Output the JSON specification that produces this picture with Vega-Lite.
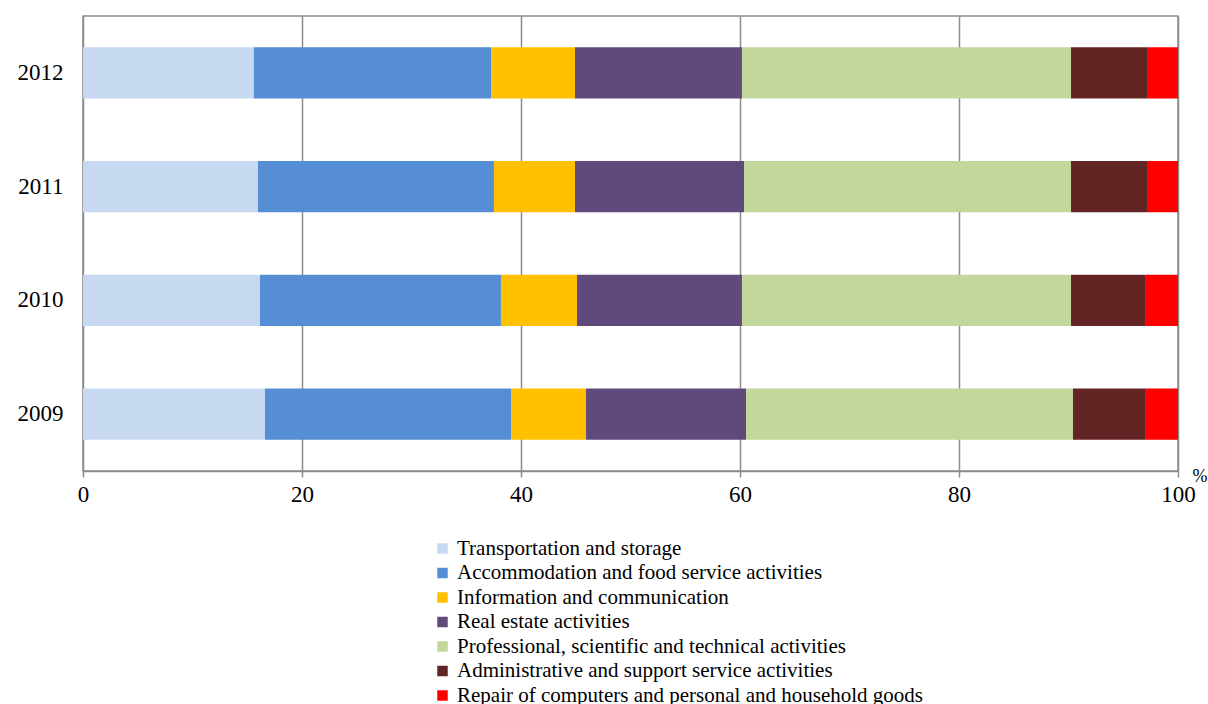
{
  "$schema": "https://vega.github.io/schema/vega-lite/v6.json",
  "autosize": "none",
  "width": 1095,
  "height": 455,
  "padding": {"left": 83, "top": 16, "right": 30, "bottom": 233},
  "background": "white",
  "config": {
    "font": "Liberation Serif",
    "view": {"stroke": "#8c8c8c", "strokeWidth": 1.5}
  },
  "data": {
    "values": [
      {"year": "2012", "sector": "Transportation and storage", "value": 15.6},
      {"year": "2012", "sector": "Accommodation and food service activities", "value": 21.66},
      {"year": "2012", "sector": "Information and communication", "value": 7.67},
      {"year": "2012", "sector": "Real estate activities", "value": 15.25},
      {"year": "2012", "sector": "Professional, scientific and technical activities", "value": 30.05},
      {"year": "2012", "sector": "Administrative and support service activities", "value": 6.94},
      {"year": "2012", "sector": "Repair of computers and personal and household goods", "value": 2.83},
      {"year": "2011", "sector": "Transportation and storage", "value": 15.98},
      {"year": "2011", "sector": "Accommodation and food service activities", "value": 21.55},
      {"year": "2011", "sector": "Information and communication", "value": 7.4},
      {"year": "2011", "sector": "Real estate activities", "value": 15.44},
      {"year": "2011", "sector": "Professional, scientific and technical activities", "value": 29.86},
      {"year": "2011", "sector": "Administrative and support service activities", "value": 6.94},
      {"year": "2011", "sector": "Repair of computers and personal and household goods", "value": 2.83},
      {"year": "2010", "sector": "Transportation and storage", "value": 16.16},
      {"year": "2010", "sector": "Accommodation and food service activities", "value": 22.01},
      {"year": "2010", "sector": "Information and communication", "value": 6.94},
      {"year": "2010", "sector": "Real estate activities", "value": 15.07},
      {"year": "2010", "sector": "Professional, scientific and technical activities", "value": 30.05},
      {"year": "2010", "sector": "Administrative and support service activities", "value": 6.76},
      {"year": "2010", "sector": "Repair of computers and personal and household goods", "value": 3.01},
      {"year": "2009", "sector": "Transportation and storage", "value": 16.62},
      {"year": "2009", "sector": "Accommodation and food service activities", "value": 22.47},
      {"year": "2009", "sector": "Information and communication", "value": 6.85},
      {"year": "2009", "sector": "Real estate activities", "value": 14.61},
      {"year": "2009", "sector": "Professional, scientific and technical activities", "value": 29.86},
      {"year": "2009", "sector": "Administrative and support service activities", "value": 6.58},
      {"year": "2009", "sector": "Repair of computers and personal and household goods", "value": 3.01}
    ]
  },
  "transform": [
    {"calculate": "indexof(['Transportation and storage','Accommodation and food service activities','Information and communication','Real estate activities','Professional, scientific and technical activities','Administrative and support service activities','Repair of computers and personal and household goods'], datum.sector)", "as": "rank"}
  ],
  "mark": {"type": "bar"},
  "encoding": {
    "y": {
      "field": "year",
      "type": "ordinal",
      "sort": "descending",
      "scale": {"paddingInner": 0.55, "paddingOuter": 0.275},
      "axis": {
        "title": null,
        "domain": false,
        "ticks": false,
        "labelPadding": 20,
        "labelFontSize": 23,
        "labelColor": "#000000",
        "labelFont": "Liberation Serif"
      }
    },
    "x": {
      "field": "value",
      "type": "quantitative",
      "stack": "zero",
      "scale": {"domain": [0, 100], "nice": false},
      "axis": {
        "values": [0, 20, 40, 60, 80, 100],
        "grid": true,
        "gridColor": "#8c8c8c",
        "gridWidth": 1.5,
        "domainColor": "#8c8c8c",
        "domainWidth": 1.5,
        "tickColor": "#8c8c8c",
        "tickWidth": 1.5,
        "tickSize": 6,
        "labelPadding": 6,
        "labelFlush": false,
        "labelFontSize": 23,
        "labelColor": "#000000",
        "labelFont": "Liberation Serif",
        "title": "%",
        "titleFont": "Liberation Serif",
        "titleFontSize": 18,
        "titleFontWeight": "normal",
        "titleColor": "#000000",
        "titleX": 1109,
        "titleY": 5,
        "titleAlign": "left",
        "titleBaseline": "middle"
      }
    },
    "order": {"field": "rank", "type": "quantitative", "sort": "ascending"},
    "color": {
      "field": "sector",
      "type": "nominal",
      "sort": [
        "Transportation and storage",
        "Accommodation and food service activities",
        "Information and communication",
        "Real estate activities",
        "Professional, scientific and technical activities",
        "Administrative and support service activities",
        "Repair of computers and personal and household goods"
      ],
      "scale": {
        "domain": [
          "Transportation and storage",
          "Accommodation and food service activities",
          "Information and communication",
          "Real estate activities",
          "Professional, scientific and technical activities",
          "Administrative and support service activities",
          "Repair of computers and personal and household goods"
        ],
        "range": ["#C6D9F1", "#558ED5", "#FFC000", "#604A7B", "#C3D69B", "#632523", "#FF0000"]
      },
      "legend": {
        "title": null,
        "orient": "none",
        "legendX": 349,
        "legendY": 522,
        "direction": "vertical",
        "symbolType": "square",
        "symbolSize": 110,
        "symbolStrokeWidth": 0,
        "labelFont": "Liberation Serif",
        "labelFontSize": 21,
        "labelColor": "#000000",
        "labelLimit": 700,
        "rowPadding": 2.5,
        "labelOffset": 4
      }
    }
  }
}
